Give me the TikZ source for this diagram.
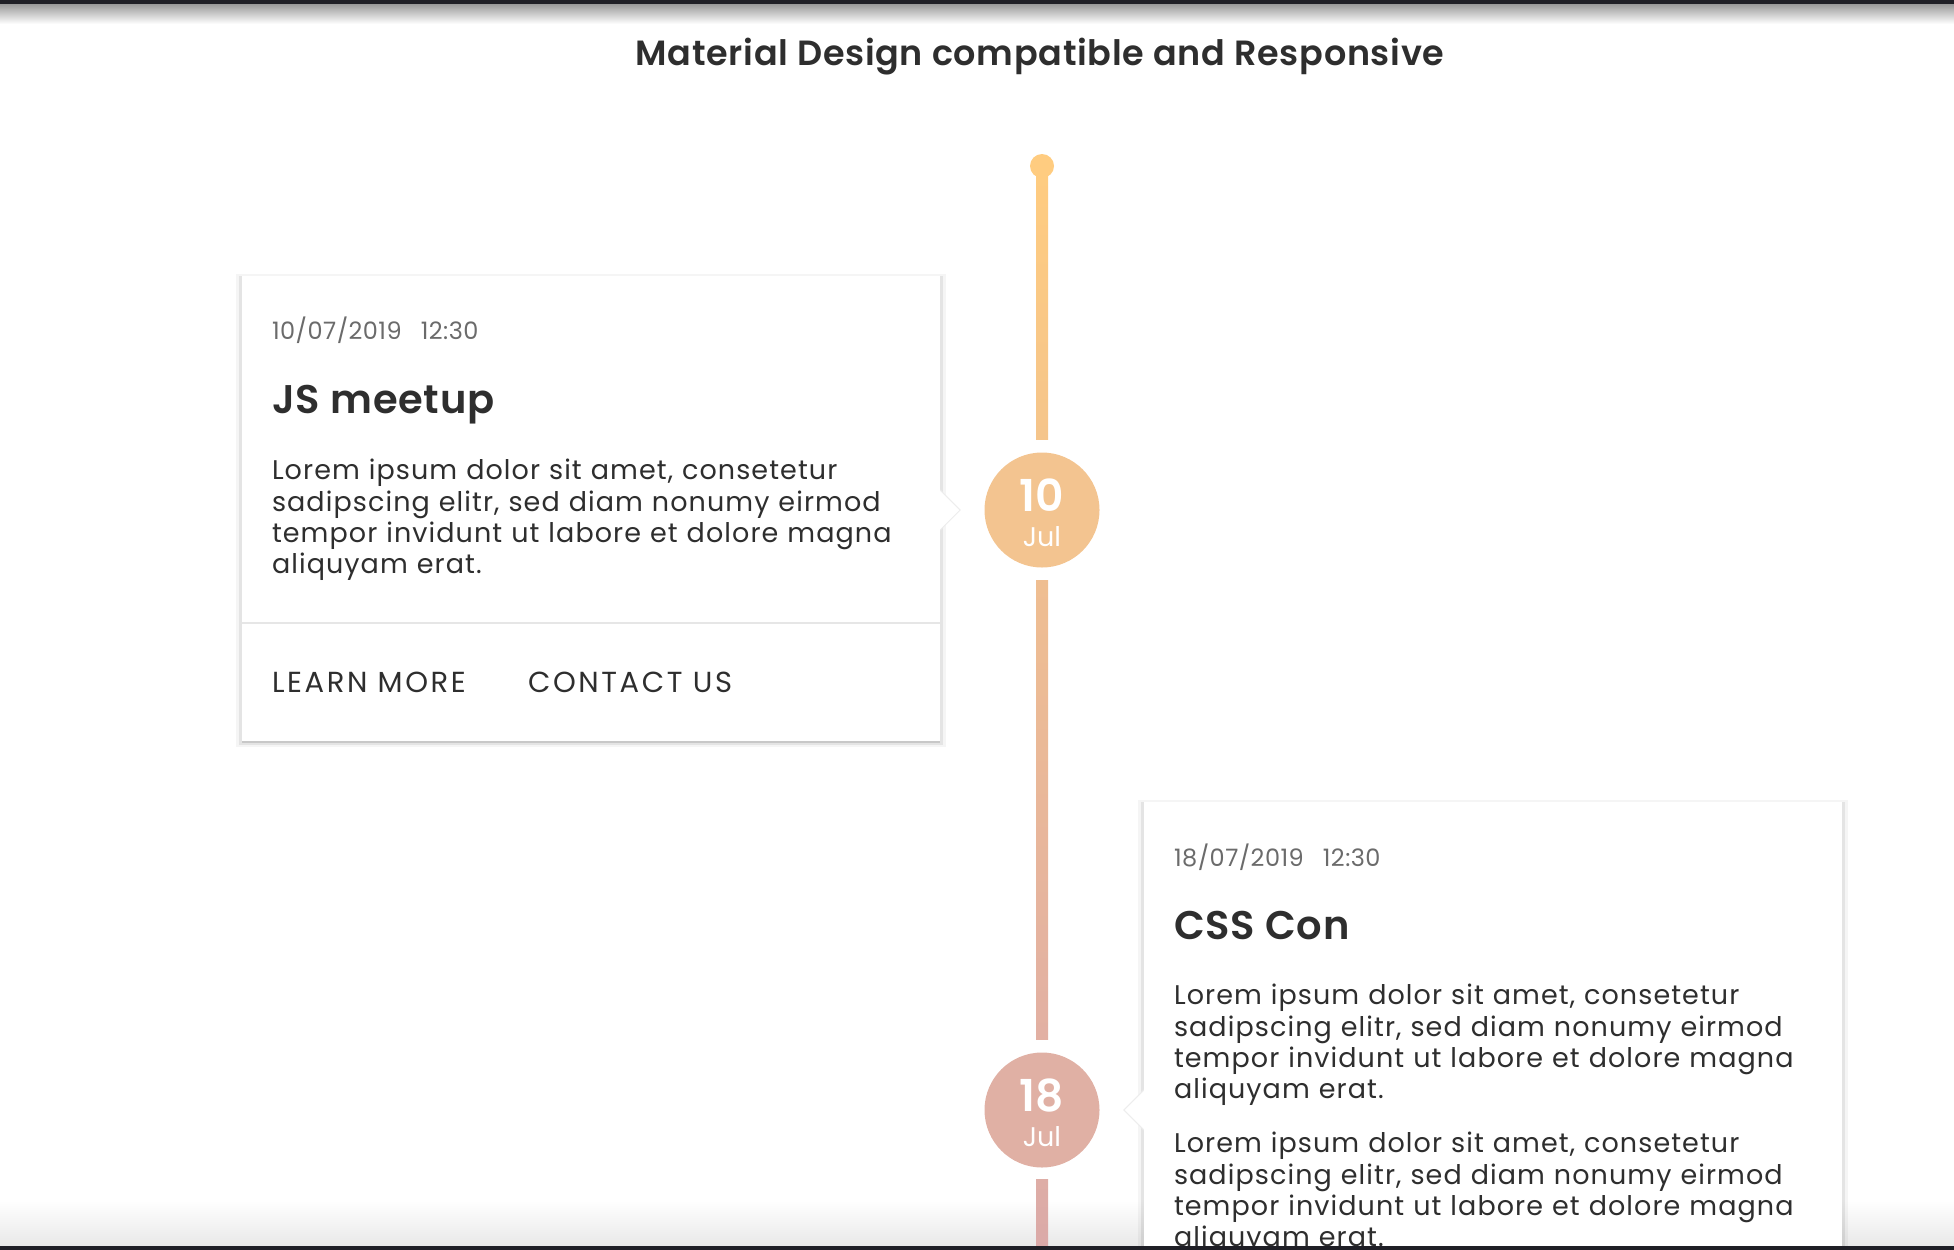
\documentclass[tikz,border=0pt]{standalone}
\usepackage{fontspec}
\setmainfont{Poppins}
\newfontfamily\semifont{Poppins SemiBold}
\usetikzlibrary{calc,positioning,shadows}
\definecolor{barDark}{HTML}{1F1F26}
\definecolor{textDark}{HTML}{2E2E2E}
\definecolor{textGrey}{HTML}{6B6B6B}
\definecolor{ruleGrey}{HTML}{E6E6E6}
\definecolor{tlA}{HTML}{FFCC80}
\definecolor{tlB}{HTML}{F5C58B}
\definecolor{tlC}{HTML}{EFBE91}
\definecolor{tlD}{HTML}{E2B0A3}
\definecolor{tlE}{HTML}{DEADA6}
\definecolor{tlF}{HTML}{DAA9A8}
\definecolor{dayOne}{HTML}{F3C490}
\definecolor{dayTwo}{HTML}{E0B0A4}

\begin{document}
\begin{tikzpicture}[
  x=1pt, y=-1pt,
  pagetitle/.style={font=\semifont\fontsize{35}{40}\selectfont\addfontfeature{LetterSpace=2}, text=textDark, inner sep=0pt},
  card/.style={fill=white, inner sep=0pt, minimum width=698,
    general shadow={fill=black, opacity=0.04, shadow xshift=0pt, shadow yshift=-2pt, shadow scale=1.018},
    general shadow={fill=black, opacity=0.07, shadow xshift=0pt, shadow yshift=-2pt, shadow scale=1.008},
    general shadow={fill=black, opacity=0.12, shadow xshift=0pt, shadow yshift=-1.5pt}},
  datetxt/.style={font=\fontsize{24}{28}\selectfont\addfontfeature{LetterSpace=2}, text=textGrey, inner sep=0pt, anchor=base west},
  evtitle/.style={font=\semifont\fontsize{40}{46}\selectfont\addfontfeature{LetterSpace=2}, text=textDark, inner sep=0pt, anchor=base west},
  evbody/.style={font=\fontsize{27}{31.3}\selectfont\addfontfeature{LetterSpace=4}, text=textDark, align=left, text width=650, inner sep=0pt, anchor=base west},
  btntxt/.style={font=\fontsize{29}{33}\selectfont\addfontfeature{LetterSpace=9}, text=textDark, inner sep=0pt, anchor=base west},
  ruleline/.style={draw=ruleGrey, line width=2pt},
  pointer/.style={fill=white, draw=black!7, line width=1pt},
  tldot/.style={circle, fill=tlA, minimum size=24, inner sep=0pt},
  daybadge/.style={circle, minimum size=115, inner sep=0pt},
  daynum/.style={font=\semifont\fontsize{44}{50}\selectfont, text=white, inner sep=0pt, anchor=base},
  daymon/.style={font=\fontsize{27}{32}\selectfont, text=white, inner sep=0pt, anchor=base}
]
\useasboundingbox (0,0) rectangle (1954,1250);

% window frame
\fill[barDark] (0,0) rectangle (1954,4);
\shade[top color=black!40, bottom color=white] (0,4) rectangle (1954,24);
\shade[top color=white, bottom color=black!9] (0,1200) rectangle (1954,1246);

\node[pagetitle, anchor=base] (title) at (1040,65) {Material Design compatible and Responsive};

% timeline
\node[tldot] (top) at (1042,166) {};
\node[daybadge, fill=dayOne] (d10) at (1042,510) {};
\node[daybadge, fill=dayTwo] (d18) at (1042,1110) {};
\coordinate (tlend) at (1042,1250);

\shade[top color=tlA, bottom color=tlB] ($(top.center)+(-6,0)$) rectangle ($(d10.north)+(6,-13)$);
\shade[top color=tlC, bottom color=tlD] ($(d10.south)+(-6,13)$) rectangle ($(d18.north)+(6,-13)$);
\shade[top color=tlE, bottom color=tlF] ($(d18.south)+(-6,12)$) rectangle ($(tlend)+(6,0)$);

\node[daynum] at ($(d10.center)+(0,1)$) {10};
\node[daymon] at ($(d10.center)+(0,36)$) {Jul};
\node[daynum] at ($(d18.center)+(0,1)$) {18};
\node[daymon] at ($(d18.center)+(0,36)$) {Jul};

% first event
\node[card, minimum height=465] (c1) at (591,508.5) {};
\filldraw[pointer] ($(c1.east |- d10)+(0,-20)$) -- ($(c1.east |- d10)+(20,0)$) -- ($(c1.east |- d10)+(0,20)$);
\fill[white] ($(c1.east |- d10)+(-1,-21)$) rectangle ($(c1.east |- d10)+(0,21)$);
\node[datetxt] (c1date) at ($(c1.north west)+(30,64)$) {10/07/2019\hspace{19pt}12:30};
\node[evtitle] (c1head) at ($(c1.north west)+(30,138)$) {JS meetup};
\node[evbody] (c1text) at ($(c1.north west)+(30,204)$)
  {Lorem ipsum dolor sit amet, consetetur\\
   sadipscing elitr, sed diam nonumy eirmod\\
   tempor invidunt ut labore et dolore magna\\
   aliquyam erat.};
\draw[ruleline] ($(c1.north west)+(0,347)$) -- ($(c1.north east)+(0,347)$);
\node[btntxt] (learn) at ($(c1.north west)+(30,417)$) {LEARN MORE};
\node[btntxt] (contact) at ($(c1.north west)+(286,417)$) {CONTACT US};

% second event
\node[card, minimum height=496] (c2) at (1493,1050) {};
\filldraw[pointer] ($(c2.west |- d18)+(0,-20)$) -- ($(c2.west |- d18)+(-20,0)$) -- ($(c2.west |- d18)+(0,20)$);
\fill[white] ($(c2.west |- d18)+(0,-21)$) rectangle ($(c2.west |- d18)+(1,21)$);
\node[datetxt] (c2date) at ($(c2.north west)+(30,65)$) {18/07/2019\hspace{19pt}12:30};
\node[evtitle] (c2head) at ($(c2.north west)+(30,138)$) {CSS Con};
\node[evbody] (c2text) at ($(c2.north west)+(30,203)$)
  {Lorem ipsum dolor sit amet, consetetur\\
   sadipscing elitr, sed diam nonumy eirmod\\
   tempor invidunt ut labore et dolore magna\\
   aliquyam erat.\\[22.7pt]
   Lorem ipsum dolor sit amet, consetetur\\
   sadipscing elitr, sed diam nonumy eirmod\\
   tempor invidunt ut labore et dolore magna\\
   aliquyam erat.};

\fill[barDark] (0,1246) rectangle (1954,1250);
\end{tikzpicture}
\end{document}
